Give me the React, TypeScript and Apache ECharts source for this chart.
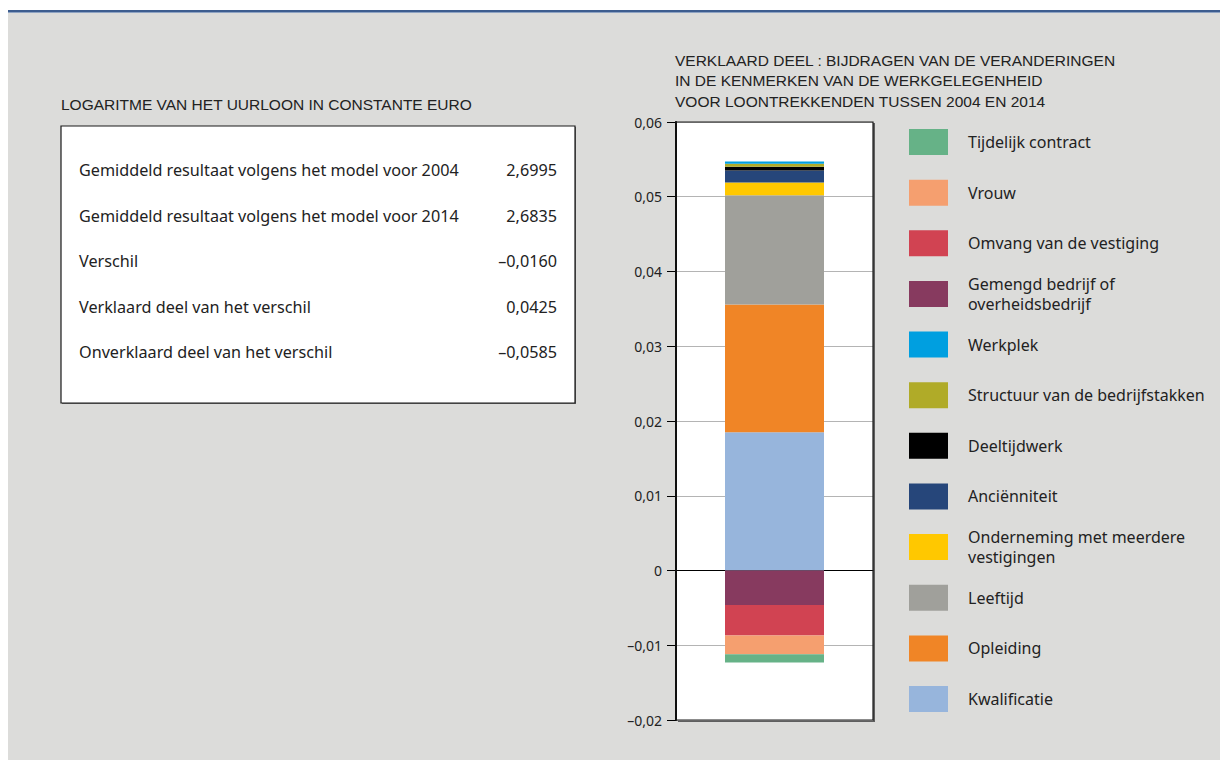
import React, { useEffect, useRef } from "react";
import * as echarts from "echarts";

// ---------- data ----------
const categories = ["2004–2014"];

// stacking order (bottom to top for positives, 0 downward for negatives)
const seriesNames = [
  "Kwalificatie",
  "Opleiding",
  "Leeftijd",
  "Onderneming met meerdere vestigingen",
  "Anciënniteit",
  "Deeltijdwerk",
  "Structuur van de bedrijfstakken",
  "Werkplek",
  "Gemengd bedrijf of overheidsbedrijf",
  "Omvang van de vestiging",
  "Vrouw",
  "Tijdelijk contract",
];
const seriesValues = [
  [0.0185],
  [0.0171],
  [0.0146],
  [0.0017],
  [0.0016],
  [0.0005],
  [0.0004],
  [0.0003],
  [-0.0046],
  [-0.0041],
  [-0.0025],
  [-0.0011],
];
const seriesColors = [
  "#97b5dc",
  "#f08526",
  "#a0a09b",
  "#ffc800",
  "#26467a",
  "#000000",
  "#b0ab28",
  "#009fe0",
  "#873a5f",
  "#d14352",
  "#f59f6f",
  "#66b287",
];

const legendOrder = [
  "Tijdelijk contract",
  "Vrouw",
  "Omvang van de vestiging",
  "Gemengd bedrijf of overheidsbedrijf",
  "Werkplek",
  "Structuur van de bedrijfstakken",
  "Deeltijdwerk",
  "Anciënniteit",
  "Onderneming met meerdere vestigingen",
  "Leeftijd",
  "Opleiding",
  "Kwalificatie",
];
const legendLabels: Record<string, string> = {
  "Gemengd bedrijf of overheidsbedrijf": "Gemengd bedrijf of\noverheidsbedrijf",
  "Onderneming met meerdere vestigingen": "Onderneming met meerdere\nvestigingen",
};

const yMin = -0.02;
const yMax = 0.06;
const yInterval = 0.01;

const chartTitleLines = [
  "VERKLAARD DEEL : BIJDRAGEN VAN DE VERANDERINGEN",
  "IN DE KENMERKEN VAN DE WERKGELEGENHEID",
  "VOOR LOONTREKKENDEN TUSSEN 2004 EN 2014",
];

const tableTitle = "LOGARITME VAN HET UURLOON IN CONSTANTE EURO";
const tableLabels = [
  "Gemiddeld resultaat volgens het model voor 2004",
  "Gemiddeld resultaat volgens het model voor 2014",
  "Verschil",
  "Verklaard deel van het verschil",
  "Onverklaard deel van het verschil",
];
const tableValues = ["2,6995", "2,6835", "–0,0160", "0,0425", "–0,0585"];

// ---------- component ----------
const FONT = "'Noto Sans', 'Open Sans', sans-serif";
const CAPS_FONT = "'Liberation Sans', Arial, sans-serif";
const TEXT = "#222222";

export default function App() {
  const ref = useRef<HTMLDivElement>(null);

  useEffect(() => {
    document.body.style.margin = "0";
    if (!ref.current) return;
    const chart = echarts.init(ref.current, null, { renderer: "svg" });

    const gridL = 676;
    const gridT = 122;
    const gridR = 873;
    const gridB = 720;

    const fmt = (v: number) => {
      if (Math.abs(v) < 1e-9) return "0";
      const s = Math.abs(v).toFixed(2).replace(".", ",");
      return v < 0 ? "–" + s : s;
    };

    const legends = legendOrder.map((name, i) => {
      const label = legendLabels[name] || name;
      const lines = label.split("\n").length;
      const swatchTop = 129 + i * 50.64;
      return {
        data: [{ name, icon: "rect" }],
        orient: "vertical",
        left: 909,
        top: swatchTop - (lines - 1) * 7,
        padding: 0,
        itemWidth: 39,
        itemHeight: 26,
        itemGap: 0,
        selectedMode: false,
        formatter: (n: string) => legendLabels[n] || n,
        textStyle: {
          fontFamily: FONT,
          fontSize: 16,
          lineHeight: 20,
          color: TEXT,
          padding: [0, 0, 0, 15],
        },
      };
    });

    const tableGraphics: any[] = [];
    tableLabels.forEach((lab, i) => {
      const y = 170 + i * 45.5;
      tableGraphics.push({
        type: "text",
        x: 79,
        y,
        style: {
          text: lab,
          font: `16.2px ${FONT}`,
          fill: TEXT,
          verticalAlign: "middle",
          align: "left",
        },
      });
      tableGraphics.push({
        type: "text",
        x: 557,
        y,
        style: {
          text: tableValues[i],
          font: `16.2px ${FONT}`,
          fill: TEXT,
          verticalAlign: "middle",
          align: "right",
        },
      });
    });

    const option: any = {
      animation: false,
      backgroundColor: "#dcdcda",
      title: {
        text: chartTitleLines.join("\n"),
        left: 675,
        top: 50,
        padding: 0,
        textStyle: {
          fontFamily: CAPS_FONT,
          fontSize: 15.5,
          fontWeight: "normal",
          lineHeight: 20.5,
          color: TEXT,
        },
      },
      legend: legends,
      grid: {
        left: gridL,
        top: gridT,
        width: gridR - gridL,
        height: gridB - gridT,
        containLabel: false,
        show: false,
      },
      xAxis: {
        type: "category",
        data: categories,
        axisLine: { show: true, onZero: true, lineStyle: { color: "#000", width: 1 } },
        axisTick: { show: false },
        axisLabel: { show: false },
        splitLine: { show: false },
      },
      yAxis: {
        type: "value",
        min: yMin,
        max: yMax,
        interval: yInterval,
        axisLine: { show: true, lineStyle: { color: "#000", width: 2 } },
        axisTick: { show: true, length: 9, lineStyle: { color: "#000", width: 1 } },
        axisLabel: {
          margin: 14,
          fontFamily: FONT,
          fontSize: 14,
          color: TEXT,
          formatter: fmt,
        },
        splitLine: { show: true, lineStyle: { color: "#b4b4b4", width: 1 } },
      },
      series: seriesNames.map((name, i) => ({
        type: "bar",
        name,
        stack: "total",
        barWidth: 99,
        data: seriesValues[i],
        itemStyle: { color: seriesColors[i] },
        emphasis: { disabled: true },
      })),
      graphic: [
        // white strips above/left of panel
        { type: "rect", z: -10, shape: { x: 0, y: 0, width: 1220, height: 10 }, style: { fill: "#ffffff" } },
        { type: "rect", z: -10, shape: { x: 0, y: 0, width: 8, height: 760 }, style: { fill: "#ffffff" } },
        // blue top rule
        { type: "rect", z: -9, shape: { x: 8, y: 10, width: 1212, height: 2 }, style: { fill: "#3d5d8f" } },
        { type: "rect", z: -9, shape: { x: 8, y: 12, width: 1212, height: 1 }, style: { fill: "#8ea3c2" } },
        // plot shadow + background
        { type: "rect", z: -8, shape: { x: gridL + 2, y: gridT + 1, width: gridR - gridL, height: gridB - gridT + 1 }, style: { fill: "#5f5f5f" } },
        { type: "rect", z: -7, shape: { x: gridL, y: gridT, width: gridR - gridL, height: gridB - gridT }, style: { fill: "#ffffff" } },
        // plot frame
        { type: "rect", z: 100, shape: { x: gridL, y: gridT, width: gridR - gridL, height: gridB - gridT }, style: { fill: "none", stroke: "#1a1a1a", lineWidth: 1.2 } },
        // left table
        {
          type: "text",
          x: 61,
          y: 104,
          style: { text: tableTitle, font: `15.5px ${CAPS_FONT}`, fill: TEXT, verticalAlign: "middle", align: "left" },
        },
        { type: "rect", z: -6, shape: { x: 62, y: 127, width: 514, height: 277 }, style: { fill: "#6a6a6a" } },
        { type: "rect", z: -5, shape: { x: 61, y: 126, width: 514, height: 277 }, style: { fill: "#ffffff", stroke: "#1a1a1a", lineWidth: 1.2 } },
        ...tableGraphics,
      ],
    };

    chart.setOption(option);
    return () => chart.dispose();
  }, []);

  return <div ref={ref} style={{ width: 1220, height: 760 }} />;
}
